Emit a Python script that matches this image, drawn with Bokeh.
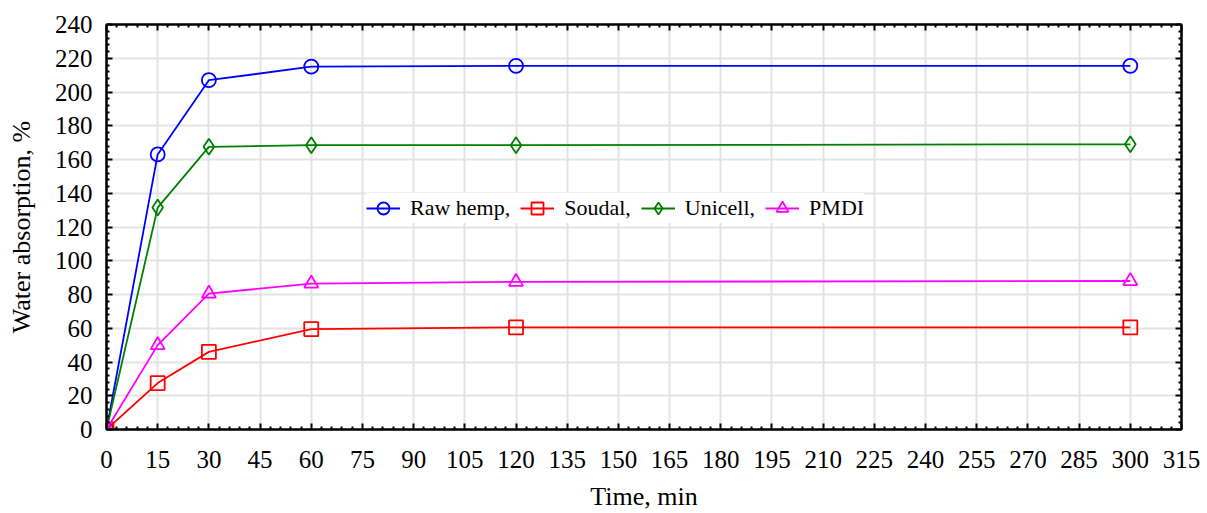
from bokeh.plotting import figure
from bokeh.models import FixedTicker, LinearAxis, Range1d, Legend, LegendItem
from bokeh.embed import file_html
from bokeh.resources import INLINE

# Soaking time, minutes
time_min = [0, 15, 30, 60, 120, 300]

# Water absorption, %
raw_hemp = [0, 163, 207, 215, 215.5, 215.5]
soudal = [0, 27.5, 46, 59.5, 60.5, 60.5]
unicell = [0, 131.5, 167.5, 168.5, 168.5, 169]
pmdi = [0, 50, 80.5, 86.5, 87.5, 88]

x_ticks = list(range(0, 316, 15))
y_ticks = list(range(0, 241, 20))

FONT = "Liberation Serif"

p = figure(width=1207, height=513, output_backend="svg", toolbar_location=None,
           x_range=Range1d(0, 315), y_range=Range1d(0, 240),
           min_border_left=106, min_border_right=26, min_border_top=24,
           min_border_bottom=84, x_axis_location=None, y_axis_location=None)

p.outline_line_color = "black"
p.outline_line_width = 2
p.background_fill_color = "white"
p.border_fill_color = "white"

x_minor = [x for x in range(0, 316, 3) if x % 15]
y_minor = [y for y in range(0, 241, 4) if y % 20]
xt = FixedTicker(ticks=x_ticks, minor_ticks=x_minor)
yt = FixedTicker(ticks=y_ticks, minor_ticks=y_minor)


def style_axis(ax, show_labels):
    ax.axis_line_color = "black"
    ax.axis_line_width = 2
    ax.major_tick_in = 6
    ax.major_tick_out = 0
    ax.minor_tick_in = 3
    ax.minor_tick_out = 0
    ax.major_tick_line_color = "black"
    ax.major_tick_line_width = 2
    ax.minor_tick_line_color = "black"
    ax.minor_tick_line_width = 2
    if show_labels:
        ax.major_label_text_font = FONT
        ax.major_label_text_font_size = "25px"
        ax.major_label_text_color = "black"
        ax.axis_label_text_font = FONT
        ax.axis_label_text_font_size = "26px"
        ax.axis_label_text_font_style = "normal"
        ax.axis_label_text_color = "black"
    else:
        ax.major_label_text_font_size = "0px"
        ax.major_label_text_alpha = 0


xb = LinearAxis(ticker=xt, axis_label="Time, min")
style_axis(xb, True)
xb.major_label_standoff = 21
xb.axis_label_standoff = 11
p.add_layout(xb, "below")

yl = LinearAxis(ticker=yt, axis_label="Water absorption, %")
style_axis(yl, True)
yl.major_label_standoff = 14
yl.axis_label_standoff = 16
p.add_layout(yl, "left")

xa = LinearAxis(ticker=xt)
style_axis(xa, False)
xa.major_label_standoff = 0
p.add_layout(xa, "above")

yr = LinearAxis(ticker=yt)
style_axis(yr, False)
yr.major_label_standoff = 0
p.add_layout(yr, "right")

p.xgrid.ticker = xt
p.ygrid.ticker = yt
p.xgrid.grid_line_color = "#e3e3e3"
p.ygrid.grid_line_color = "#e3e3e3"
p.xgrid.grid_line_width = 2
p.ygrid.grid_line_width = 2

series = [
    ("Raw hemp,", raw_hemp, "#0000ff", "circle", 14),
    ("Soudal,", soudal, "#ff0000", "square", 14),
    ("Unicell,", unicell, "#008000", "diamond", 16),
    ("PMDI", pmdi, "#ff00ff", "triangle", 14),
]

items = []
for label, vals, color, marker, size in series:
    ln = p.line(time_min, vals, line_color=color, line_width=1.8)
    sc = p.scatter(time_min, vals, marker=marker, size=size, line_color=color,
                   line_width=1.8, fill_color=None)
    items.append(LegendItem(label=label, renderers=[ln, sc]))

legend = Legend(items=items, orientation="horizontal", location=(260, 206),
                background_fill_color="white", background_fill_alpha=1,
                border_line_color=None, label_text_font=FONT,
                label_text_font_size="22px", label_text_color="black",
                glyph_width=34, glyph_height=30, spacing=10, padding=3,
                label_standoff=10, margin=0)
p.add_layout(legend, "center")

open("out.html", "w").write(file_html(p, INLINE))
